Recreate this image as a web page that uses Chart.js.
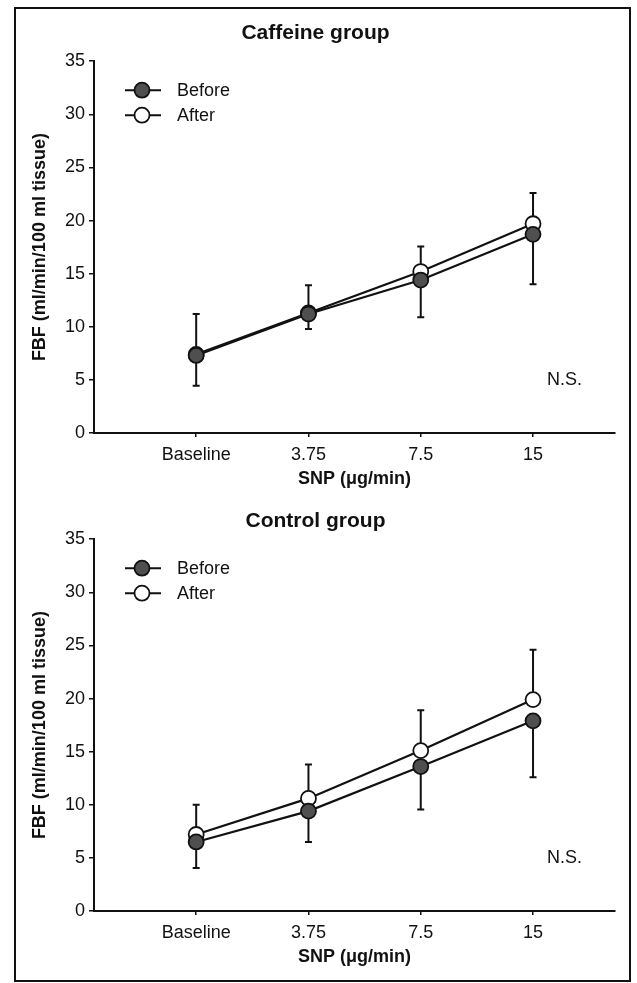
<!DOCTYPE html>
<html>
<head>
<meta charset="utf-8">
<script src="https://cdn.jsdelivr.net/npm/chart.js@4.4.1/dist/chart.umd.min.js"></script>
<style>
  html, body { margin: 0; padding: 0; background: #fff; }
  body { width: 637px; height: 983px; position: relative; overflow: hidden; }
  #frame { position: absolute; left: 14px; top: 7px; width: 617px; height: 975px; border: 2px solid #111; box-sizing: border-box; }
  .box { position: absolute; left: 16px; width: 614px; }
  #c1box { top: 9px; height: 484px; }
  #c2box { top: 493px; height: 478px; }
</style>
</head>
<body>
<div id="frame"></div>
<div class="box" id="c1box"><canvas id="c1"></canvas></div>
<div class="box" id="c2box"><canvas id="c2"></canvas></div>
<script>
// ---- data ----
const categories = ["Baseline", "3.75", "7.5", "15"];
const yTicks = [0, 5, 10, 15, 20, 25, 30, 35];

const caffeineBefore = [7.3, 11.2, 14.4, 18.7];
const caffeineAfter  = [7.4, 11.3, 15.2, 19.7];
const caffeineBeforeSD = [2.85, 1.4, 3.5, 4.7];   // drawn downward
const caffeineAfterSD  = [3.8, 2.6, 2.35, 2.9];   // drawn upward

const controlBefore = [6.5, 9.4, 13.6, 17.9];
const controlAfter  = [7.2, 10.6, 15.1, 19.9];
const controlBeforeSD = [2.45, 2.9, 4.05, 5.3];
const controlAfterSD  = [2.8, 3.2, 3.8, 4.7];

const FONT = "'Liberation Sans', Arial, Helvetica, sans-serif";

function makeChart(id, title, before, after, beforeSD, afterSD, titlePad) {
  const errorBars = {
    id: 'errorBars',
    beforeDatasetsDraw(chart) {
      const ctx = chart.ctx, xs = chart.scales.x, ys = chart.scales.y;
      ctx.save();
      ctx.strokeStyle = '#111';
      ctx.lineWidth = 2;
      const draw = (vals, sds, dir) => {
        vals.forEach((v, i) => {
          const x = xs.getPixelForValue(i);
          const y0 = ys.getPixelForValue(v);
          const y1 = ys.getPixelForValue(v + dir * sds[i]);
          ctx.beginPath();
          ctx.moveTo(x, y0); ctx.lineTo(x, y1);
          ctx.moveTo(x - 3.5, y1); ctx.lineTo(x + 3.5, y1);
          ctx.stroke();
        });
      };
      draw(after, afterSD, 1);
      draw(before, beforeSD, -1);
      ctx.restore();
    }
  };
  const legendAndNote = {
    id: 'legendAndNote',
    afterDatasetsDraw(chart) {
      const ctx = chart.ctx, a = chart.chartArea;
      ctx.save();
      const rows = [
        { label: 'Before', fill: '#4f4f4f', dy: 29 },
        { label: 'After', fill: '#ffffff', dy: 54 }
      ];
      rows.forEach(r => {
        const y = a.top + r.dy;
        ctx.strokeStyle = '#111';
        ctx.lineWidth = 2;
        ctx.beginPath();
        ctx.moveTo(a.left + 31, y); ctx.lineTo(a.left + 67, y);
        ctx.stroke();
        ctx.beginPath();
        ctx.arc(a.left + 48, y, 7.5, 0, Math.PI * 2);
        ctx.fillStyle = r.fill;
        ctx.fill();
        ctx.lineWidth = 1.8;
        ctx.stroke();
        ctx.fillStyle = '#111';
        ctx.font = '18px ' + FONT;
        ctx.textAlign = 'left';
        ctx.textBaseline = 'middle';
        ctx.fillText(r.label, a.left + 83, y + 1);
      });
      ctx.fillStyle = '#111';
      ctx.font = '18px ' + FONT;
      ctx.textAlign = 'left';
      ctx.textBaseline = 'middle';
      ctx.fillText('N.S.', a.right - 68, a.bottom - 53);
      ctx.restore();
    }
  };

  return new Chart(document.getElementById(id), {
    type: 'line',
    data: {
      datasets: [
        {
          label: 'Before',
          data: before.map((v, i) => ({ x: i, y: v })),
          borderColor: '#111', borderWidth: 2.2,
          pointRadius: 7.5, pointBorderWidth: 1.8,
          pointBackgroundColor: '#4f4f4f', pointBorderColor: '#111',
          tension: 0, order: 0
        },
        {
          label: 'After',
          data: after.map((v, i) => ({ x: i, y: v })),
          borderColor: '#111', borderWidth: 2.2,
          pointRadius: 7.5, pointBorderWidth: 1.8,
          pointBackgroundColor: '#ffffff', pointBorderColor: '#111',
          tension: 0, order: 1
        }
      ]
    },
    options: {
      responsive: true,
      maintainAspectRatio: false,
      animation: false,
      events: [],
      layout: { padding: { left: 0, right: 15, top: 0, bottom: 0 } },
      plugins: {
        legend: { display: false },
        tooltip: { enabled: false },
        title: {
          display: true, text: title, color: '#111',
          font: { family: FONT, size: 21, weight: 'bold' },
          padding: titlePad
        }
      },
      scales: {
        x: {
          type: 'linear', min: -0.91, max: 3.73,
          afterBuildTicks: s => { s.ticks = categories.map((_, i) => ({ value: i })); },
          afterFit: s => { s.height = 60; },
          grid: { drawOnChartArea: false, drawTicks: true, tickLength: 4, color: '#111', lineWidth: 1.5 },
          border: { display: true, color: '#111', width: 2 },
          ticks: {
            color: '#111', padding: 7, maxRotation: 0, autoSkip: false,
            font: { family: FONT, size: 18 },
            callback: v => categories[v]
          },
          title: {
            display: true, text: 'SNP (μg/min)', color: '#111',
            font: { family: FONT, size: 18, weight: 'bold' },
            padding: { top: 0, bottom: 3 }
          }
        },
        y: {
          min: 0, max: 35,
          afterBuildTicks: s => { s.ticks = yTicks.map(v => ({ value: v })); },
          afterFit: s => { s.width = 78; },
          grid: { drawOnChartArea: false, drawTicks: true, tickLength: 5, color: '#111', lineWidth: 1.5 },
          border: { display: true, color: '#111', width: 2 },
          ticks: {
            color: '#111', padding: 4,
            font: { family: FONT, size: 18 }
          },
          title: {
            display: true, text: 'FBF (ml/min/100 ml tissue)', color: '#111',
            font: { family: FONT, size: 18, weight: 'bold' },
            padding: { top: 13, bottom: 0 }
          }
        }
      }
    },
    plugins: [errorBars, legendAndNote]
  });
}

makeChart('c1', 'Caffeine group', caffeineBefore, caffeineAfter, caffeineBeforeSD, caffeineAfterSD, { top: 12, bottom: 15 });
makeChart('c2', 'Control group', controlBefore, controlAfter, controlBeforeSD, controlAfterSD, { top: 16, bottom: 5 });
</script>
</body>
</html>
